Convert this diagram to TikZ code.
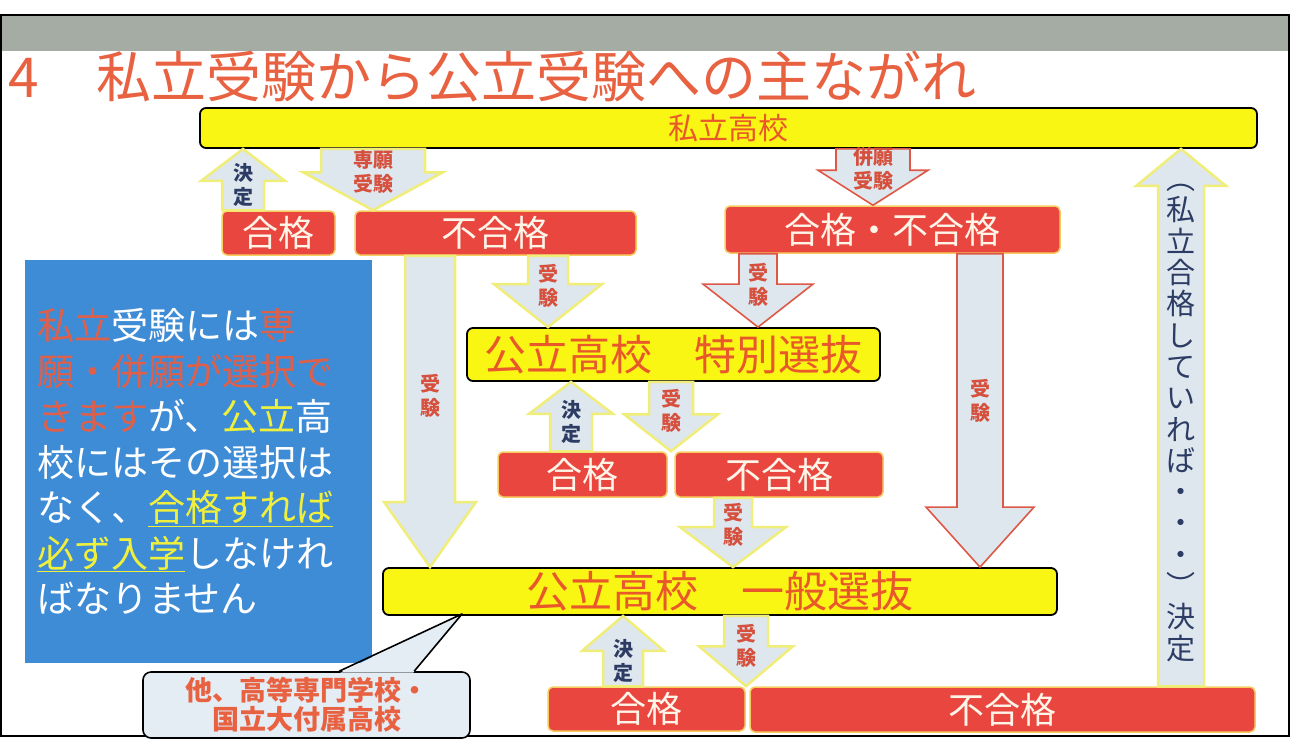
\documentclass[tikz,border=0pt]{standalone}
\usepackage{fontspec}
\setmainfont{Noto Sans CJK JP}
\usepackage{tikz}
\usetikzlibrary{positioning, calc}

\definecolor{titlered}{RGB}{232,98,66}
\definecolor{bandgray}{RGB}{164,172,164}
\definecolor{boxyellow}{RGB}{250,246,20}
\definecolor{ytext}{RGB}{232,88,42}
\definecolor{boxred}{RGB}{232,70,62}
\definecolor{rimgold}{RGB}{246,204,96}
\definecolor{redtext}{RGB}{255,244,232}
\definecolor{noteblue}{RGB}{62,140,214}
\definecolor{notered}{RGB}{222,96,74}
\definecolor{noteyellow}{RGB}{240,240,60}
\definecolor{arrowfill}{RGB}{222,230,238}
\definecolor{arrowrim}{RGB}{240,238,120}
\definecolor{arrowred}{RGB}{222,88,70}
\definecolor{labelred}{RGB}{214,80,62}
\definecolor{decnavy}{RGB}{44,60,100}
\definecolor{calloutfill}{RGB}{228,236,244}

\tikzset{
    yellowbox/.style={draw=black, line width=1.8pt, fill=boxyellow, rounded corners=6pt,
        text=ytext, inner sep=0pt},
    redbox/.style={draw=rimgold, line width=1.5pt, fill=boxred, rounded corners=5pt,
        text=redtext, inner sep=0pt, font=\fontsize{36}{40}\selectfont},
    notebox/.style={fill=noteblue, minimum width=347pt, minimum height=403pt, text width=323pt,
        inner xsep=12pt, inner ysep=0pt, align=left, text=white,
        font=\fontsize{37}{45.5}\selectfont},
    calloutnote/.style={draw=black, line width=1.6pt, fill=calloutfill, rounded corners=8pt,
        minimum width=327pt, minimum height=66pt, align=center, text=titlered, inner sep=0pt,
        font=\bfseries\fontsize{27}{29}\selectfont},
    arrowbody/.style={draw=arrowrim, line width=2.5pt, fill=arrowfill, line join=miter},
    redarrow/.style={draw=arrowred, line width=1.6pt},
    arrowlabel/.style={align=center, inner sep=0pt, font=\bfseries\fontsize{20}{24}\selectfont},
    labelstyle/.style={},
    exam/.style={labelstyle/.style={text=labelred}},
    decide/.style={labelstyle/.style={text=decnavy}},
    tall/.style={labelstyle/.style={text=decnavy, font=\fontsize{29}{31.3}\selectfont}},
    lpos/.code={\def\labelpos{#1}},
}

% fat vertical arrow: [style]{tail}{tip}{shaft half width}{head half width}{head length}{label}
\def\labelpos{0.42}
\newcommand\fatarrow[7][]{%
    \draw[arrowbody,#1]
        let \p1 = #2, \p2 = #3, \n1 = {sign(\y2-\y1)}
        in
            ({\x1-#4},\y1) -- ({\x1-#4},{\y2-(\n1)*#6}) -- ({\x1-#5},{\y2-(\n1)*#6})
            -- (\x1,\y2)
            -- ({\x1+#5},{\y2-(\n1)*#6}) -- ({\x1+#4},{\y2-(\n1)*#6}) -- ({\x1+#4},\y1) -- cycle
            (\x1,{\y1+\labelpos*(\y2-\y1)}) node[arrowlabel,labelstyle] {#7};
}

\begin{document}
\begin{tikzpicture}[x=1pt, y=-1pt]
    \useasboundingbox (0,0) rectangle (1306,740);

    % band and border
    \fill[bandgray] (1,15) rectangle (1289,51);
    \draw[black, line width=2pt] (1,15) rectangle (1289,736);

    \node[anchor=base west, text=titlered, font=\fontsize{55}{60}\selectfont, inner sep=0pt]
        (title) at (8,97) {4\hspace{58pt}私立受験から公立受験への主ながれ};

    % yellow boxes
    \node[yellowbox, minimum width=1057pt, minimum height=40pt, font=\fontsize{30}{34}\selectfont]
        (shiritsu) at (728.5,128) {私立高校};
    \node[yellowbox, minimum width=413pt, minimum height=53pt, font=\fontsize{42}{46}\selectfont]
        (tokubetsu) at (673.5,354.5) {公立高校　特別選抜};
    \node[yellowbox, minimum width=674pt, minimum height=47pt, font=\fontsize{43}{46}\selectfont]
        (ippan) at (720,591.5) {公立高校　一般選抜};

    % red boxes
    \foreach \name/\x/\y/\w/\h/\txt in {
        gokaku1/278.5/233/113/44/合格,
        fugo1/495.5/233/281/44/不合格,
        gohi/892.5/229.5/335/47/合格・不合格,
        gokaku2/582.5/474.5/169/45/合格,
        fugo2/779/474.5/208/45/不合格,
        gokaku3/646.5/709/197/44/合格,
        fugo3/1002.5/709.5/505/45/不合格}{

        \node[redbox, minimum width=\w, minimum height=\h] (\name) at (\x,\y) {\txt};
    }

    \node[notebox] (note) at (198.5,461.5) {%
        {\color{notered}私立}受験には{\color{notered}専}\\
        {\color{notered}願・併願が選択で}\\
        {\color{notered}きます}が、{\color{noteyellow}公立}高\\
        校にはその選択は\\
        なく、{\color{noteyellow}\underline{合格すれば}}\\
        {\color{noteyellow}\underline{必ず入学}}しなけれ\\
        ばなりません};

    % arrows
    \fatarrow[decide]{([xshift=-35.5pt]gokaku1.north)}{(shiritsu.south)}{21}{42}{32}{決\\定}
    \fatarrow[exam, lpos=0.37]{([xshift=-355.5pt]shiritsu.south)}{(fugo1.north)}{52}{70}{38}{専願\\受験}
    \fatarrow[exam, redarrow, lpos=0.35]{([xshift=144.5pt]shiritsu.south)}{(gohi.north)}{37}{55}{35}{併願\\受験}
    \fatarrow[exam, lpos=0.45]{([xshift=-65.5pt]fugo1.south)}{(ippan.north)}{25}{46}{65}{受\\験}
    \fatarrow[exam]{([xshift=52.5pt]fugo1.south)}{(tokubetsu.north)}{20}{54}{43}{受\\験}
    \fatarrow[exam, redarrow]{([xshift=-134.5pt]gohi.south)}{(tokubetsu.north)}{19}{55}{43}{受\\験}
    \fatarrow[exam, redarrow, lpos=0.47]{([xshift=87.5pt]gohi.south)}{(ippan.north)}{23}{54}{60}{受\\験}
    \fatarrow[decide]{([xshift=-11.5pt]gokaku2.north)}{(tokubetsu.south)}{21}{42}{32}{決\\定}
    \fatarrow[exam]{([xshift=-2.5pt]tokubetsu.south)}{(fugo2.north)}{22}{47}{37}{受\\験}
    \fatarrow[exam, lpos=0.39]{([xshift=-46pt]fugo2.south)}{(ippan.north)}{19}{53}{40}{受\\験}
    \fatarrow[decide, lpos=0.36]{([xshift=-23.5pt]gokaku3.north)}{(ippan.south)}{20}{41}{35}{決\\定}
    \fatarrow[exam]{([xshift=26pt]ippan.south)}{(gokaku3.north)}{22}{47}{40}{受\\験}
    \fatarrow[tall, lpos=0.49]{([xshift=178.5pt]fugo3.north)}{(shiritsu.south)}{23}{45}{37}%
        {︵\\私\\立\\合\\格\\し\\て\\い\\れ\\ば\\・\\・\\・\\︶\\決\\定}

    % callout
    \node[calloutnote] (others) at (306.5,705) {他、高等専門学校・\\国立大付属高校};
    \coordinate (tip) at ([xshift=80pt, yshift=2pt]ippan.south west);
    \fill[calloutfill]
        ([xshift=198pt, yshift=-1.5pt]others.north west) -- (tip)
        -- ([xshift=271pt, yshift=-1.5pt]others.north west) -- cycle;
    \draw[black, line width=1.6pt, line join=round]
        ([xshift=197pt]others.north west) -- (tip) -- ([xshift=272pt]others.north west);
\end{tikzpicture}
\end{document}
